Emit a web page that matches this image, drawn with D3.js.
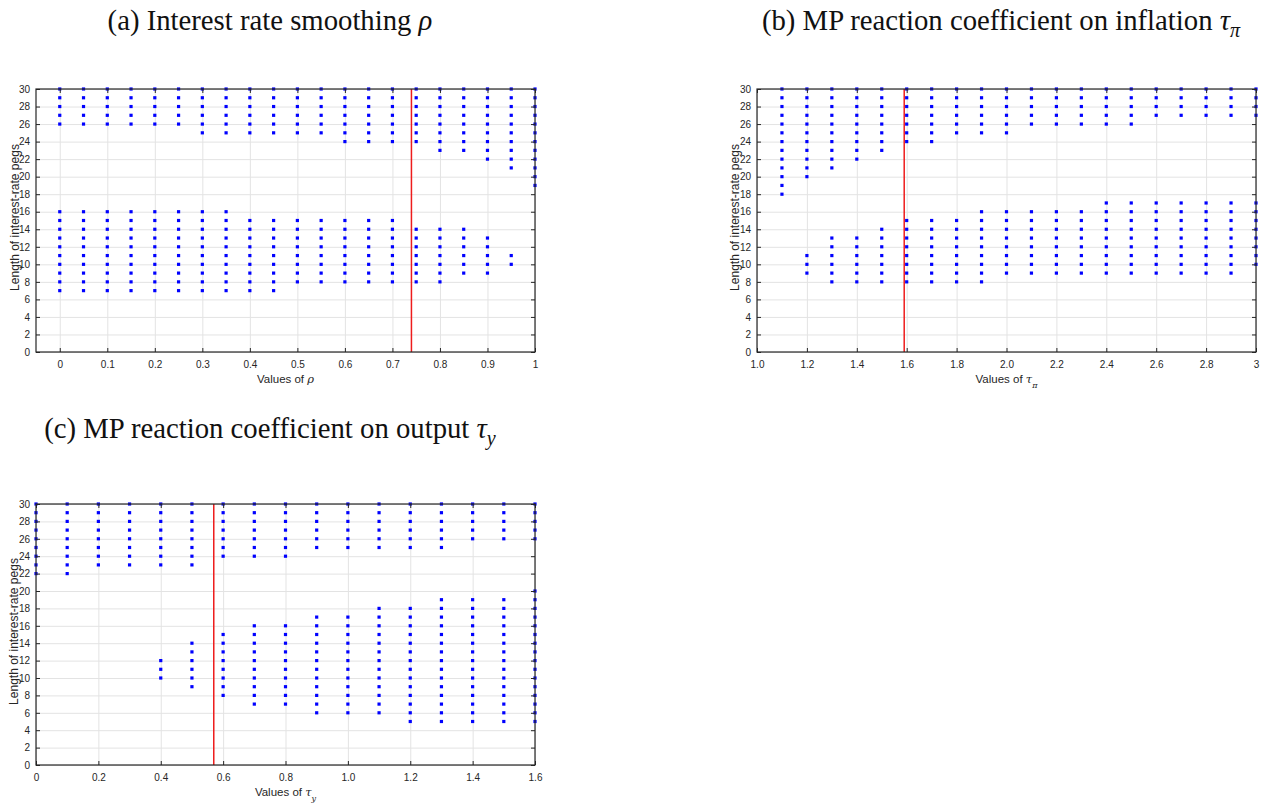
<!DOCTYPE html>
<html>
<head>
<meta charset="utf-8">
<script src="https://cdn.jsdelivr.net/npm/d3@7"></script>
<style>
  body { margin: 0; background: #fff; }
  .tick text { font-family: "Liberation Sans", Arial, sans-serif; font-size: 10px; fill: #262626; }
  .grid line { stroke: #e3e3e3; stroke-width: 1; }
  .grid path { display: none; }
  .grid text { display: none; }
  .ax path { display: none; }
  .ax line { stroke: #262626; }
</style>
</head>
<body>
<div id="container"></div>
<script>
// ---- data ----
// panel (a): interest rate smoothing rho
var rhoValues   = [0, 0.05, 0.1, 0.15, 0.2, 0.25, 0.3, 0.35, 0.4, 0.45, 0.5, 0.55, 0.6, 0.65, 0.7, 0.75, 0.8, 0.85, 0.9, 0.95, 1];
var rhoUpperLo  = [26, 26, 26, 26, 26, 26, 25, 25, 25, 25, 25, 25, 24, 24, 24, 24, 23, 23, 22, 21, 19];
var rhoUpperHi  = [30, 30, 30, 30, 30, 30, 30, 30, 30, 30, 30, 30, 30, 30, 30, 30, 30, 30, 30, 30, 30];
var rhoLowerLo  = [7, 7, 7, 7, 7, 7, 7, 7, 7, 7, 8, 8, 8, 8, 8, 8, 8, 9, 9, 10, null];
var rhoLowerHi  = [16, 16, 16, 16, 16, 16, 16, 16, 15, 15, 15, 15, 15, 15, 15, 14, 14, 14, 13, 11, null];
var rhoLine = 0.74;
var rhoTicks = [0, 0.1, 0.2, 0.3, 0.4, 0.5, 0.6, 0.7, 0.8, 0.9, 1];
var rhoTickLabels = ["0", "0.1", "0.2", "0.3", "0.4", "0.5", "0.6", "0.7", "0.8", "0.9", "1"];

// panel (b): reaction on inflation tau_pi
var tauPiValues  = [1.1, 1.2, 1.3, 1.4, 1.5, 1.6, 1.7, 1.8, 1.9, 2.0, 2.1, 2.2, 2.3, 2.4, 2.5, 2.6, 2.7, 2.8, 2.9, 3.0];
var tauPiUpperLo = [18, 20, 21, 22, 23, 24, 24, 25, 25, 25, 26, 26, 26, 26, 26, 27, 27, 27, 27, 27];
var tauPiUpperHi = [30, 30, 30, 30, 30, 30, 30, 30, 30, 30, 30, 30, 30, 30, 30, 30, 30, 30, 30, 30];
var tauPiLowerLo = [null, 9, 8, 8, 8, 8, 8, 8, 8, 9, 9, 9, 9, 9, 9, 9, 9, 9, 9, 10];
var tauPiLowerHi = [null, 11, 13, 13, 14, 15, 15, 15, 16, 16, 16, 16, 16, 17, 17, 17, 17, 17, 17, 17];
var tauPiLine = 1.59;
var tauPiTicks = [1.0, 1.2, 1.4, 1.6, 1.8, 2.0, 2.2, 2.4, 2.6, 2.8, 3.0];
var tauPiTickLabels = ["1.0", "1.2", "1.4", "1.6", "1.8", "2.0", "2.2", "2.4", "2.6", "2.8", "3"];

// panel (c): reaction on output tau_y
var tauYValues  = [0, 0.1, 0.2, 0.3, 0.4, 0.5, 0.6, 0.7, 0.8, 0.9, 1.0, 1.1, 1.2, 1.3, 1.4, 1.5, 1.6];
var tauYUpperLo = [22, 22, 23, 23, 23, 23, 24, 24, 24, 25, 25, 25, 25, 25, 26, 26, 26];
var tauYUpperHi = [30, 30, 30, 30, 30, 30, 30, 30, 30, 30, 30, 30, 30, 30, 30, 30, 30];
var tauYLowerLo = [null, null, null, null, 10, 9, 8, 7, 7, 6, 6, 6, 5, 5, 5, 5, 5];
var tauYLowerHi = [null, null, null, null, 12, 14, 15, 16, 16, 17, 17, 18, 18, 19, 19, 19, 20];
var tauYLine = 0.57;
var tauYTicks = [0, 0.2, 0.4, 0.6, 0.8, 1.0, 1.2, 1.4, 1.6];
var tauYTickLabels = ["0", "0.2", "0.4", "0.6", "0.8", "1.0", "1.2", "1.4", "1.6"];

var yTicks = [0, 2, 4, 6, 8, 10, 12, 14, 16, 18, 20, 22, 24, 26, 28, 30];

var width = 1269, height = 803;
var svg = d3.select("div#container").append("svg")
    .attr("width", width)
    .attr("height", height);

// turn the run arrays into one record per dot
function dots(xs, runs) {
  var out = [];
  runs.forEach(function(r) {
    xs.forEach(function(x, i) {
      if (r[0][i] == null) return;
      for (var v = r[0][i]; v <= r[1][i]; v++) out.push({x: x, y: v});
    });
  });
  return out;
}

var panels = [
  { left: 36, right: 535, top: 89, bottom: 352, xdom: [-0.05, 1], ylabX: 15,
    xs: rhoValues, runs: [[rhoUpperLo, rhoUpperHi], [rhoLowerLo, rhoLowerHi]],
    line: rhoLine, ticks: rhoTicks, tickLabels: rhoTickLabels, sym: "ρ", sub: null },
  { left: 757, right: 1256, top: 89, bottom: 352, xdom: [1, 3], ylabX: 735,
    xs: tauPiValues, runs: [[tauPiUpperLo, tauPiUpperHi], [tauPiLowerLo, tauPiLowerHi]],
    line: tauPiLine, ticks: tauPiTicks, tickLabels: tauPiTickLabels, sym: "τ", sub: "π" },
  { left: 36, right: 535, top: 504, bottom: 765, xdom: [0, 1.6], ylabX: 14,
    xs: tauYValues, runs: [[tauYUpperLo, tauYUpperHi], [tauYLowerLo, tauYLowerHi]],
    line: tauYLine, ticks: tauYTicks, tickLabels: tauYTickLabels, sym: "τ", sub: "y" }
];

panels.forEach(function(p) {
  var x = d3.scaleLinear().domain(p.xdom).range([p.left, p.right]);
  var y = d3.scaleLinear().domain([0, 30]).range([p.bottom, p.top]);
  var w = p.right - p.left, h = p.bottom - p.top;
  var g = svg.append("g");

  // grid
  g.append("g").attr("class", "grid")
    .attr("transform", "translate(0," + p.bottom + ")")
    .call(d3.axisBottom(x).tickValues(p.ticks).tickSize(-h).tickFormat(""));
  g.append("g").attr("class", "grid")
    .attr("transform", "translate(" + p.left + ",0)")
    .call(d3.axisLeft(y).tickValues(yTicks).tickSize(-w).tickFormat(""));

  // dots
  g.append("g").selectAll("rect")
    .data(dots(p.xs, p.runs))
    .enter().append("rect")
      .attr("x", function(d) { return x(d.x) - 1.6; })
      .attr("y", function(d) { return y(d.y) - 1.6; })
      .attr("width", 3.2)
      .attr("height", 3.2)
      .attr("fill", "#0000ff");

  // red reference line
  g.append("line")
    .attr("x1", x(p.line)).attr("x2", x(p.line))
    .attr("y1", y(0)).attr("y2", y(30))
    .attr("stroke", "#ee1c1c")
    .attr("stroke-width", 1.5);

  // axes, ticks pointing in, on all four sides
  g.append("g").attr("class", "ax")
    .attr("transform", "translate(0," + p.bottom + ")")
    .call(d3.axisBottom(x).tickValues(p.ticks).tickSize(-4).tickPadding(9)
      .tickFormat(function(d, k) { return p.tickLabels[k]; }));
  g.append("g").attr("class", "ax")
    .attr("transform", "translate(0," + p.top + ")")
    .call(d3.axisTop(x).tickValues(p.ticks).tickSize(-4).tickFormat(""));
  g.append("g").attr("class", "ax")
    .attr("transform", "translate(" + p.left + ",0)")
    .call(d3.axisLeft(y).tickValues(yTicks).tickSize(-4).tickPadding(6));
  g.append("g").attr("class", "ax")
    .attr("transform", "translate(" + p.right + ",0)")
    .call(d3.axisRight(y).tickValues(yTicks).tickSize(-4).tickFormat(""));

  // box
  g.append("rect")
    .attr("x", p.left).attr("y", p.top)
    .attr("width", w).attr("height", h)
    .attr("fill", "none")
    .attr("stroke", "#262626")
    .attr("stroke-width", 1.2);

  // y label
  g.append("text")
    .attr("transform", "translate(" + p.ylabX + "," + (p.top + h / 2 - 3) + ") rotate(-90)")
    .attr("text-anchor", "middle")
    .attr("dominant-baseline", "central")
    .style("font-family", "Liberation Sans, Arial, sans-serif")
    .style("font-size", "12px")
    .style("fill", "#262626")
    .text("Length of interest-rate pegs");

  // x label
  var xl = g.append("text")
    .attr("x", p.left + w / 2)
    .attr("y", p.bottom + 31)
    .attr("text-anchor", "middle")
    .style("font-family", "Liberation Sans, Arial, sans-serif")
    .style("font-size", "11.5px")
    .style("fill", "#262626");
  xl.append("tspan").text("Values of ");
  xl.append("tspan").style("font-family", "DejaVu Serif, serif").style("font-style", "italic").text(p.sym);
  if (p.sub) xl.append("tspan").attr("dy", 5).style("font-size", "8px")
    .style("font-family", "DejaVu Serif, serif").style("font-style", "italic").text(p.sub);
});

// panel titles in a serif face, sized so (a) fills its measured width
var titles = [
  { lab: "(a) Interest rate smoothing ", sym: "ρ", sub: null, cx: 270, y: 30 },
  { lab: "(b) MP reaction coefficient on inflation ", sym: "τ", sub: "π", cx: 1001, y: 30 },
  { lab: "(c) MP reaction coefficient on output ", sym: "τ", sub: "y", cx: 270, y: 438 }
];
var tnodes = titles.map(function(t) {
  var tx = svg.append("text")
    .attr("x", t.cx).attr("y", t.y)
    .attr("text-anchor", "middle")
    .style("font-family", "Liberation Serif, Times New Roman, serif")
    .style("font-size", "20px")
    .style("fill", "#111");
  tx.append("tspan").text(t.lab);
  tx.append("tspan").style("font-style", "italic").text(t.sym);
  if (t.sub) tx.append("tspan").attr("class", "sub").attr("dy", 5).style("font-style", "italic").text(t.sub);
  return tx;
});
var fs = 20 * 325 / tnodes[0].node().getComputedTextLength();
tnodes.forEach(function(tx) {
  tx.style("font-size", fs + "px");
  tx.selectAll("tspan.sub").style("font-size", (fs * 0.7) + "px").attr("dy", fs * 0.25);
});
</script>
</body>
</html>
